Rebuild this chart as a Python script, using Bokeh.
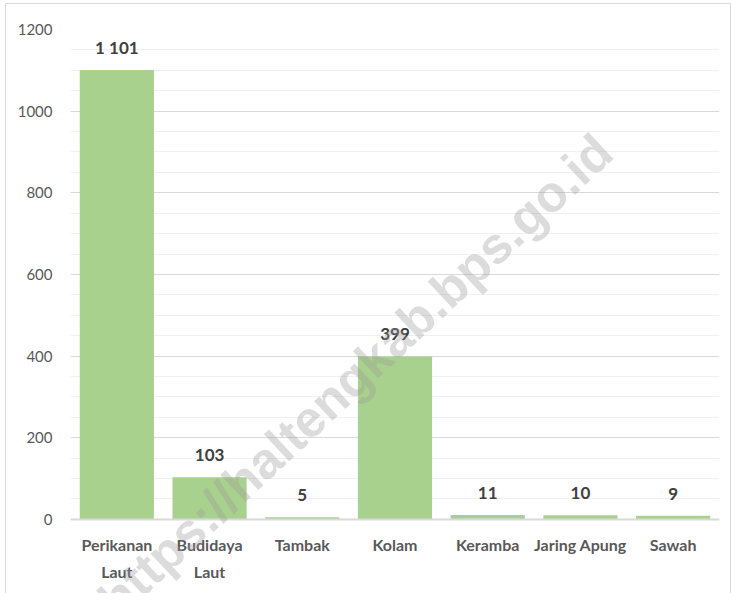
from bokeh.plotting import figure
from bokeh.models import (ColumnDataSource, FactorRange, Range1d, FixedTicker,
                          LabelSet, Label)
from bokeh.core.properties import value
from bokeh.embed import file_html
from bokeh.resources import INLINE

# ---- data ----
categories = ["Perikanan\nLaut", "Budidaya\nLaut", "Tambak", "Kolam",
              "Keramba", "Jaring Apung", "Sawah"]
values = [1101, 103, 5, 399, 11, 10, 9]
value_labels = [f"{v:,}".replace(",", " ") for v in values]
y_ticks = [0, 200, 400, 600, 800, 1000, 1200]
y_minor = [50, 100, 150, 250, 300, 350, 450, 500, 550, 650, 700, 750,
           850, 900, 950, 1050, 1100, 1150]
watermark = "https://haltengkab.bps.go.id"

src = ColumnDataSource(dict(cat=categories, val=values, lab=value_labels))

# frame extends below zero so the watermark can run over the category labels
p = figure(width=726, height=590, output_backend="svg", toolbar_location=None,
           x_range=FactorRange(*categories, range_padding=0),
           y_range=Range1d(-184, 1200),
           min_border_left=64, min_border_right=13, min_border_top=25,
           min_border_bottom=0)
p.styles = {"border-left": "1px solid #d9d9d9", "border-top": "1px solid #d9d9d9",
            "border-right": "1px solid #d9d9d9", "box-sizing": "border-box",
            "margin-left": "5px", "margin-top": "3px"}
p.outline_line_color = None
p.background_fill_color = "white"
p.border_fill_color = "white"

p.vbar(x="cat", top="val", width=0.8, source=src, fill_color="#a9d18e",
       line_color=None)

# y axis
ticker = FixedTicker(ticks=y_ticks, minor_ticks=y_minor)
p.yaxis.ticker = ticker
p.ygrid.ticker = ticker
p.yaxis.axis_line_color = None
p.yaxis.major_tick_line_color = None
p.yaxis.minor_tick_line_color = None
p.yaxis.major_label_standoff = 12
p.yaxis.major_label_text_font = "Lato"
p.yaxis.major_label_text_font_size = "15px"
p.yaxis.major_label_text_color = "#595959"

# grids
p.xgrid.grid_line_color = None
p.ygrid.grid_line_color = "#d9d9d9"
p.ygrid.grid_line_width = 1
p.ygrid.minor_grid_line_color = "#f0f0f0"
p.ygrid.minor_grid_line_width = 1

# x axis drawn at y = 0
p.xaxis.fixed_location = 0
p.xaxis.axis_line_color = "#d9d9d9"
p.xaxis.axis_line_width = 2
p.xaxis.major_tick_line_color = None
p.xaxis.minor_tick_line_color = None
p.xaxis.major_label_standoff = 10
p.xaxis.major_label_text_font = "Lato"
p.xaxis.major_label_text_font_style = "bold"
p.xaxis.major_label_text_font_size = "16px"
p.xaxis.major_label_text_color = "#595959"
p.xaxis.major_label_text_line_height = 1.4

# value labels
labels = LabelSet(x="cat", y="val", text="lab", source=src, y_offset=22,
                  text_align="center", text_baseline="middle",
                  text_font=value("Lato"), text_font_style="bold",
                  text_font_size="17px", text_color="#404040")
p.add_layout(labels)

# watermark
wm = Label(x=285, y=219, x_units="screen", y_units="screen", text=watermark,
           angle=43, angle_units="deg", text_align="center",
           text_baseline="middle", text_font="Liberation Sans",
           text_font_style="bold", text_font_size="51px",
           text_color="#9a9a9a", text_alpha=0.35)
p.add_layout(wm)

open("out.html", "w").write(file_html(p, INLINE))
